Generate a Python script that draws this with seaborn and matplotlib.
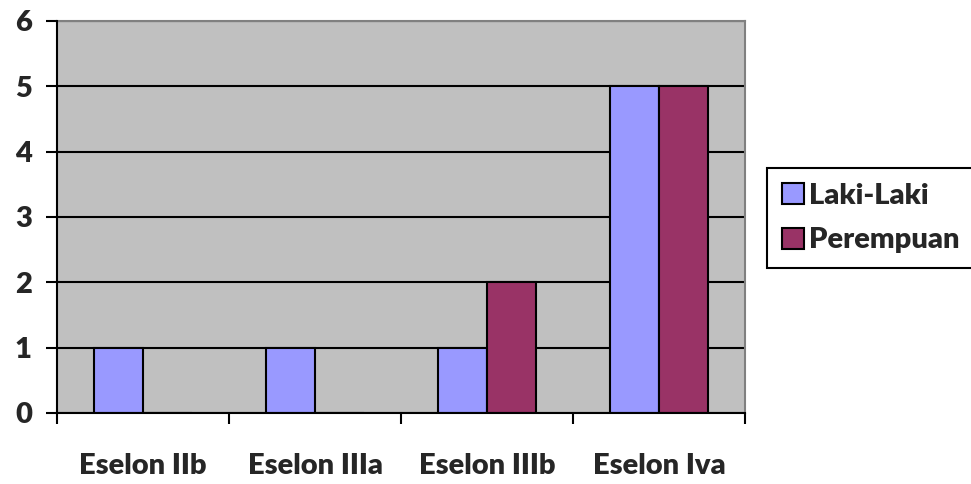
import numpy as np
import pandas as pd
import seaborn as sns
from matplotlib import pyplot as plt

CATEGORIES = ["Eselon IIb", "Eselon IIIa", "Eselon IIIb", "Eselon Iva"]
LAKI_LAKI = [1, 1, 1, 5]
PEREMPUAN = [0, 0, 2, 5]
Y_TICKS = [0, 1, 2, 3, 4, 5, 6]

CUSTOM_PALETTE = {
    'Laki-Laki': '#9999FF',
    'Perempuan': '#993366'
}

df = pd.DataFrame({
    'eselon': CATEGORIES * 2,
    'jumlah': LAKI_LAKI + PEREMPUAN,
    'jenis': ['Laki-Laki'] * len(CATEGORIES) + ['Perempuan'] * len(CATEGORIES),
})

sns.set_style("white")
plt.rcParams['font.family'] = ['Lato', 'DejaVu Sans']
FS = 21
FW = 'heavy'

fig = plt.figure(figsize=(9.71, 4.84), dpi=100)
ax = fig.add_axes([0.0587, 0.1467, 0.7086, 0.81])
ax.set_facecolor('#C0C0C0')

sns.barplot(data=df, x='eselon', y='jumlah', hue='jenis', palette=CUSTOM_PALETTE,
            saturation=1, width=0.571, edgecolor='black', linewidth=1.5, ax=ax, zorder=3)

ax.set_ylim(0, 6)
ax.set_xlim(-0.5, len(CATEGORIES) - 0.5)
ax.set_yticks(Y_TICKS)
ax.yaxis.grid(True, color='black', linewidth=1.5, zorder=0)
ax.set_axisbelow(True)

ax.set_xlabel('')
ax.set_ylabel('')

ax.set_xticks(range(len(CATEGORIES)))
ax.set_xticklabels(CATEGORIES, fontsize=FS, fontweight=FW)
ax.set_xticks(np.arange(-0.5, len(CATEGORIES)), minor=True)
ax.tick_params(axis='x', which='major', bottom=True, length=0, pad=29)
ax.tick_params(axis='x', which='minor', bottom=True, length=8, width=1.5, color='black', direction='out')
ax.tick_params(axis='y', left=True, length=8, width=1.5, color='black', direction='out', pad=10, labelsize=FS)
for lbl in ax.get_yticklabels():
    lbl.set_fontweight(FW)

for side in ['top', 'right']:
    ax.spines[side].set_color('#808080')
    ax.spines[side].set_linewidth(1.5)
for side in ['left', 'bottom']:
    ax.spines[side].set_color('black')
    ax.spines[side].set_linewidth(1.5)
    ax.spines[side].set_zorder(4)

handles, labels = ax.get_legend_handles_labels()
ax.legend_.remove()
leg = fig.legend(handles, labels, loc='upper left', bbox_to_anchor=(0.790, 0.653),
                 frameon=True, fancybox=False, edgecolor='black', framealpha=1,
                 prop={'weight': FW, 'size': FS}, handlelength=0.75, handleheight=0.75,
                 handletextpad=0.2, borderpad=0.5, labelspacing=0.65, borderaxespad=0)
leg.get_frame().set_linewidth(1.5)
for h in leg.legend_handles:
    h.set_edgecolor('black')
    h.set_linewidth(1.5)

fig.savefig('out.png', dpi=100)
